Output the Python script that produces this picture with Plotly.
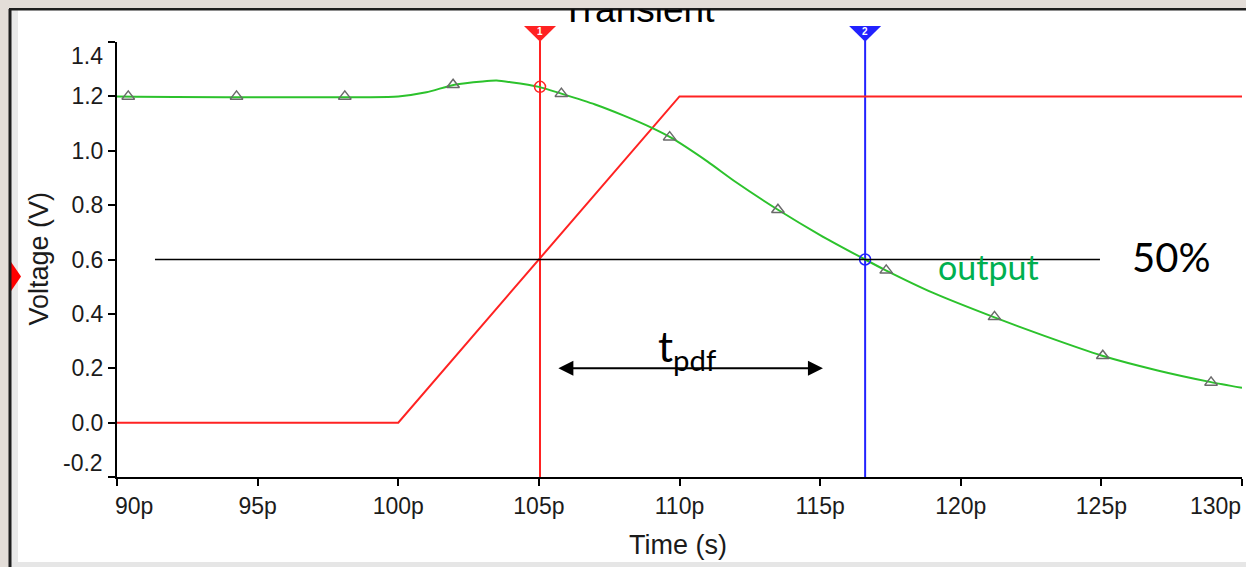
import plotly.graph_objects as go

W, H = 1246, 567

# ---------------- data ----------------
x_ticks = [90, 95, 100, 105, 110, 115, 120, 125, 130]
y_ticks = [-0.2, 0.0, 0.2, 0.4, 0.6, 0.8, 1.0, 1.2, 1.4]

t_input = [90, 100, 110, 130]
v_input = [0.0, 0.0, 1.2, 1.2]

t_output = [90, 100, 101, 102, 103, 103.5, 104, 105, 105.8, 107, 108, 109, 109.7,
            111, 112, 113.5, 115, 116.6, 117.3, 119, 121.2, 123, 125, 127, 128.9, 130]
v_output = [1.2, 1.2, 1.215, 1.243, 1.255, 1.258, 1.252, 1.235, 1.21, 1.17, 1.13, 1.085, 1.048,
            0.96, 0.885, 0.783, 0.69, 0.6, 0.562, 0.478, 0.387, 0.318, 0.247, 0.192, 0.149, 0.128]

t_symbols = [90.4, 94.25, 98.1, 101.95, 105.8, 109.65, 113.5, 117.35, 121.2, 125.05, 128.9]
v_symbols = [1.2, 1.2, 1.2, 1.243, 1.21, 1.05, 0.783, 0.56, 0.389, 0.246, 0.148]

cursor_t = [105.04, 116.6]
cursor_v = [1.235, 0.6]
cursor_names = ["1", "2"]

level_t = [91.35, 124.95]
level_v = [0.6, 0.6]
level_text = "50%"
output_label = "output"
output_label_t = 121.0
output_label_v = 0.575
level_text_t = 127.48
level_text_v = 0.61
tpdf_t = [105.64, 115.1]
tpdf_v = 0.2
tpdf_text = "t<sub>pdf</sub>"
tpdf_text_t = 110.25
tpdf_text_v = 0.27

title_text = "Transient"
x_title = "Time (s)"
y_title = "Voltage (V)"

# ---------------- styles ----------------
RED = "#ff2222"
GREEN = "#2cc22c"
BLUE = "#2222ff"
GREY = "#6a6a6a"
BG = "#e3ddd8"
TICK_FONT = dict(family="Liberation Sans, Arial, sans-serif", size=23, color="#1b1b1b")
TITLE_FONT = dict(family="Liberation Sans, Arial, sans-serif", size=27, color="#1b1b1b")
PPT_FONT = "Lato, Carlito, Calibri, sans-serif"
cursor_colors = [RED, BLUE]


def px(x):
    return x / W


def py(y):
    return 1 - y / H


X0, X1, Y0, Y1 = 117, 1242, 477, 42
units_per_px = (x_ticks[-1] - x_ticks[0]) / (X1 - X0)

fig = go.Figure()

# input (red)
fig.add_trace(go.Scatter(x=t_input, y=v_input, mode="lines",
                         line=dict(color=RED, width=2), hoverinfo="skip"))
# output (green)
fig.add_trace(go.Scatter(x=t_output, y=v_output, mode="lines",
                         line=dict(color=GREEN, width=2, shape="spline", smoothing=0.6),
                         hoverinfo="skip"))
# symbols on output
fig.add_trace(go.Scatter(x=t_symbols, y=v_symbols, mode="markers",
                         marker=dict(symbol="triangle-up-open", size=11, color=GREY,
                                     line=dict(width=1.5)), hoverinfo="skip"))
# cursor intersection circles
fig.add_trace(go.Scatter(x=cursor_t, y=cursor_v, mode="markers",
                         marker=dict(symbol="circle-open", size=11, color=cursor_colors,
                                     line=dict(width=1.5)), hoverinfo="skip"))
# 50% level line
fig.add_trace(go.Scatter(x=level_t, y=level_v, mode="lines",
                         line=dict(color="black", width=1.3), hoverinfo="skip"))

# clipped window title (overlay subplot)
fig.add_trace(go.Scatter(x=[px(638)], y=[py(12.5)], mode="text", text=[title_text],
                         textposition="middle center",
                         textfont=dict(family="Liberation Sans, Arial, sans-serif", size=37,
                                       color="black"),
                         xaxis="x2", yaxis="y2", cliponaxis=True, hoverinfo="skip"))

shapes = [
    # window
    dict(type="rect", xref="paper", yref="paper", x0=px(10), x1=1, y0=py(562), y1=py(9),
         fillcolor="white", line=dict(width=0), layer="below"),
    dict(type="rect", xref="paper", yref="paper", x0=px(11), x1=px(18), y0=0, y1=py(9),
         fillcolor="#e9e9e9", line=dict(width=0), layer="below"),
    dict(type="rect", xref="paper", yref="paper", x0=px(11), x1=1, y0=0, y1=py(562),
         fillcolor="#e6e6e6", line=dict(width=0), layer="below"),
    # left marker
    dict(type="path", xref="paper", yref="paper",
         path=f"M {px(9)},{py(259)} L {px(21)},{py(276.5)} L {px(9)},{py(294)} Z",
         fillcolor="#ff0000", line=dict(width=0), layer="below"),
    # borders
    dict(type="line", xref="paper", yref="paper", x0=px(9), x1=1, y0=py(9.2), y1=py(9.2),
         line=dict(color="#1e1e1e", width=2.5), layer="below"),
    dict(type="line", xref="paper", yref="paper", x0=px(10), x1=px(10), y0=0, y1=py(9),
         line=dict(color="#1e1e1e", width=3), layer="below"),
]

annotations = []
hw = 16 * units_per_px
for c, col, name in zip(cursor_t, cursor_colors, cursor_names):
    shapes.append(dict(type="line", xref="x", yref="paper", x0=c, x1=c, y0=py(Y0), y1=py(41),
                       line=dict(color=col, width=2), layer="below"))
    shapes.append(dict(type="path", xref="x", yref="paper",
                       path=f"M {c - hw},{py(26)} L {c + hw},{py(26)} L {c},{py(41.7)} Z",
                       fillcolor=col, line=dict(width=0), layer="above"))
    annotations.append(dict(x=c, y=py(31.5), xref="x", yref="paper", text=f"<b>{name}</b>",
                            xanchor="center", yanchor="middle",
                            showarrow=False, font=dict(family="Liberation Sans, Arial", size=10,
                                                       color="white")))

# end tick labels (clamped inside the axes like the original)
annotations += [
    dict(x=px(104.5), y=y_ticks[-1], xref="paper", yref="y", yshift=-14, xanchor="right",
         yanchor="middle", text=f"{y_ticks[-1]:.1f}", showarrow=False, font=TICK_FONT),
    dict(x=px(104.5), y=y_ticks[0], xref="paper", yref="y", yshift=14, xanchor="right",
         yanchor="middle", text=f"{y_ticks[0]:.1f}", showarrow=False, font=TICK_FONT),
    dict(x=x_ticks[0], y=py(506), xref="x", yref="paper", xshift=-4, xanchor="left",
         yanchor="middle", text=f"{x_ticks[0]}p", showarrow=False, font=TICK_FONT),
    dict(x=x_ticks[-1], y=py(506), xref="x", yref="paper", xshift=1, xanchor="right",
         yanchor="middle", text=f"{x_ticks[-1]}p", showarrow=False, font=TICK_FONT),
    # axis titles
    dict(x=px(678), y=py(545), xref="paper", yref="paper", text=x_title, showarrow=False,
         xanchor="center", yanchor="middle", font=TITLE_FONT),
    dict(x=px(38), y=py(258.5), xref="paper", yref="paper", text=y_title, textangle=-90,
         xanchor="center", yanchor="middle", showarrow=False, font=TITLE_FONT),
    # presentation overlays
    dict(x=level_text_t, y=level_text_v, xref="x", yref="y", text=level_text, showarrow=False,
         xanchor="center", yanchor="middle", font=dict(family=PPT_FONT, size=40, color="black")),
    dict(x=output_label_t, y=output_label_v, xref="x", yref="y", text=output_label,
         xanchor="center", yanchor="middle",
         showarrow=False, font=dict(family=PPT_FONT, size=34, color="#00b050")),
    dict(x=tpdf_text_t, y=tpdf_text_v, xref="x", yref="y", text=tpdf_text, showarrow=False,
         xanchor="center", yanchor="middle", font=dict(family=PPT_FONT, size=42, color="black")),
    dict(x=tpdf_t[1], y=tpdf_v, ax=tpdf_t[0], ay=tpdf_v, xref="x", yref="y", axref="x",
         ayref="y", text="", showarrow=True, arrowside="end+start", arrowhead=2,
         startarrowhead=2, arrowsize=1.5, startarrowsize=1.5, arrowwidth=2,
         arrowcolor="black", standoff=0, startstandoff=0),
]

fig.update_layout(
    width=W, height=H,
    margin=dict(l=0, r=0, t=0, b=0),
    paper_bgcolor=BG,
    plot_bgcolor="rgba(0,0,0,0)",
    showlegend=False,
    template="none",
    shapes=shapes,
    annotations=annotations,
    xaxis=dict(domain=[px(X0), px(X1)], range=[x_ticks[0], x_ticks[-1]],
               tickvals=x_ticks,
               ticktext=[""] + [f"{v}p" for v in x_ticks[1:-1]] + [""],
               ticks="outside", ticklen=7, tickwidth=1.5, tickcolor="black",
               showline=True, linecolor="black", linewidth=2, showgrid=False,
               zeroline=False, tickfont=TICK_FONT, automargin=False, anchor="y"),
    yaxis=dict(domain=[py(Y0), py(Y1)], range=[y_ticks[0], y_ticks[-1]],
               tickvals=y_ticks,
               ticktext=[""] + [f"{v:.1f}" for v in y_ticks[1:-1]] + [""],
               ticks="outside", ticklen=7, tickwidth=1.5, tickcolor="black",
               showline=True, linecolor="black", linewidth=2, showgrid=False,
               zeroline=False, tickfont=TICK_FONT, automargin=False, anchor="x"),
    xaxis2=dict(domain=[0, 1], range=[0, 1], visible=False, anchor="y2", fixedrange=True),
    yaxis2=dict(domain=[0, py(9.5)], range=[0, py(9.5)], visible=False, anchor="x2",
                fixedrange=True),
)

fig.write_html("out.html", config={"displayModeBar": False},
               post_script="document.body.style.margin='0px';"
               "document.body.style.overflow='hidden';")
